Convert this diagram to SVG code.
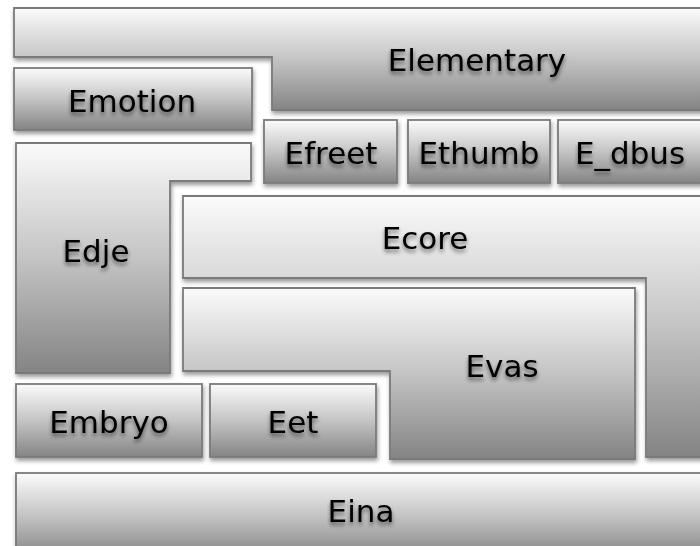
<svg xmlns="http://www.w3.org/2000/svg" width="700" height="546" viewBox="0 0 700 546">
<defs>
<linearGradient id="g" x1="0" y1="0" x2="0" y2="1">
<stop offset="0" stop-color="#fbfbfb"/>
<stop offset="0.5" stop-color="#c4c4c4"/>
<stop offset="1" stop-color="#848484"/>
</linearGradient>
<filter id="sh" x="-10%" y="-10%" width="120%" height="130%">
<feDropShadow dx="1" dy="3" stdDeviation="2" flood-color="#000" flood-opacity="0.4"/>
</filter>
<filter id="ts" x="-20%" y="-30%" width="140%" height="170%">
<feGaussianBlur in="SourceAlpha" stdDeviation="2"/>
<feOffset dx="0" dy="3" result="b"/>
<feComponentTransfer><feFuncA type="linear" slope="0.55"/></feComponentTransfer>
<feMerge><feMergeNode/><feMergeNode in="SourceGraphic"/></feMerge>
</filter>
</defs>
<style>
.s{fill:url(#g);stroke:#7a7a7a;stroke-width:1.8;filter:url(#sh)}
.t{font-family:"DejaVu Sans",Verdana,sans-serif;font-size:31px;fill:#000;text-anchor:middle;filter:url(#ts)}
</style>
<rect width="700" height="546" fill="#fff"/>
<g id="elementary"><path class="s" d="M14,8 H712 V110 H272 V57 H14 Z"/><text class="t" x="477" y="71">Elementary</text></g>
<g id="emotion"><rect class="s" x="14" y="68" width="238" height="62"/><text class="t" x="132" y="112">Emotion</text></g>
<g id="efreet"><rect class="s" x="264" y="120" width="133" height="63"/><text class="t" x="331" y="164">Efreet</text></g>
<g id="ethumb"><rect class="s" x="408" y="120" width="142" height="63"/><text class="t" x="479" y="164">Ethumb</text></g>
<g id="e_dbus"><rect class="s" x="558" y="120" width="154" height="63"/><text class="t" x="630" y="164">E_dbus</text></g>
<g id="edje"><path class="s" d="M16,143 H251 V181 H170 V373 H16 Z"/><text class="t" x="96" y="262">Edje</text></g>
<g id="ecore"><path class="s" d="M183,196 H712 V457 H646 V278 H183 Z"/><text class="t" x="425" y="249">Ecore</text></g>
<g id="evas"><path class="s" d="M183,288 H635 V459 H390 V371 H183 Z"/><text class="t" x="502" y="377">Evas</text></g>
<g id="embryo"><rect class="s" x="16" y="384" width="186" height="73"/><text class="t" x="109" y="433">Embryo</text></g>
<g id="eet"><rect class="s" x="210" y="384" width="166" height="73"/><text class="t" x="293" y="433">Eet</text></g>
<g id="eina"><rect class="s" x="16" y="473" width="696" height="85"/><text class="t" x="361" y="522">Eina</text></g>
<g id="connectors"/>
</svg>
